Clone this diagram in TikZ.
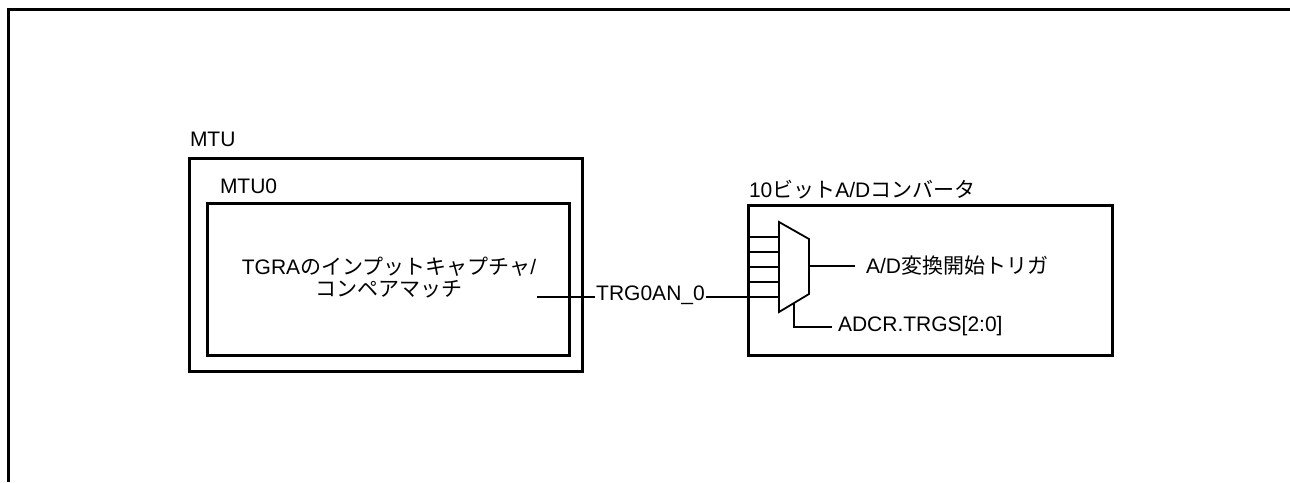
\documentclass[tikz,border=0pt]{standalone}
\usepackage{fontspec}
\setmainfont{Liberation Sans}
\newfontfamily\jp{Noto Sans CJK JP}
\begin{document}
\begin{tikzpicture}[x=1pt,y=-1pt,
  box/.style={draw,line width=3pt,inner sep=0pt,outer sep=0pt,anchor=north west},
  thin/.style={line width=1.8pt},
  lbl/.style={inner sep=0pt,outer sep=0pt,font=\fontsize{21}{22}\selectfont},
]
\useasboundingbox (0,0) rectangle (1290,482);
% frame
\draw[line width=3.5pt] (8.5,482) coordinate (f1) -- (8.5,9.5) coordinate (f2) -- (1290,9.5) coordinate (f3);
% boxes
\node[box,minimum width=393pt,minimum height=213pt] (mtu) at (189,158) {};
\node[box,minimum width=362pt,minimum height=152pt] (mtu0) at (207,203) {};
\node[box,minimum width=364pt,minimum height=150pt] (adc) at (748,205) {};
% labels
\node[lbl,anchor=base west] (lmtu) at (190,146) {MTU};
\node[lbl,anchor=base west] (lmtu0) at (220,193) {MTU0};
\node[lbl,anchor=base west] (ladc) at (749,197) {10{\jp ビット}A/D{\jp コンバータ}};
\node[lbl,align=center] (func) at (389,278) {TGRA{\jp のインプットキャプチャ}/\\{\jp コンペアマッチ}};
% mux
\coordinate (m1) at (779,222);
\coordinate (m2) at (809,239);
\coordinate (m3) at (809,294);
\coordinate (m4) at (779,312);
\draw[thin,line join=miter] (m1) -- (m2) -- (m3) -- (m4) -- cycle;
\foreach \i/\yy in {1/237,2/252,3/267,4/282,5/297}{
  \coordinate (a\i) at (748,\yy);
  \coordinate (b\i) at (779,\yy);
}
\foreach \i in {1,2,3,4}{\draw[thin] (a\i) -- (b\i);}
% trigger line
\coordinate (src) at (537,297);
\node[lbl,inner sep=1pt] (trg) at (650.5,295.5) {TRG0AN\_0};
\draw[thin] (src) -- (src -| trg.west);
\draw[thin] (trg.east |- b5) -- (b5);
% output
\coordinate (o1) at (809,266);
\node[lbl,anchor=west] (out) at (866,266) {A/D{\jp 変換開始トリガ}};
\coordinate (o2) at (855,266);
\draw[thin] (o1) -- (o2);
% select
\coordinate (s1) at (794,303);
\coordinate (s2) at (794,327);
\coordinate (s3) at (832,327);
\node[lbl,anchor=west] (sel) at (838,326) {ADCR.TRGS[2:0]};
\draw[thin] (s1) -- (s2) -- (s3);
\end{tikzpicture}
\end{document}
